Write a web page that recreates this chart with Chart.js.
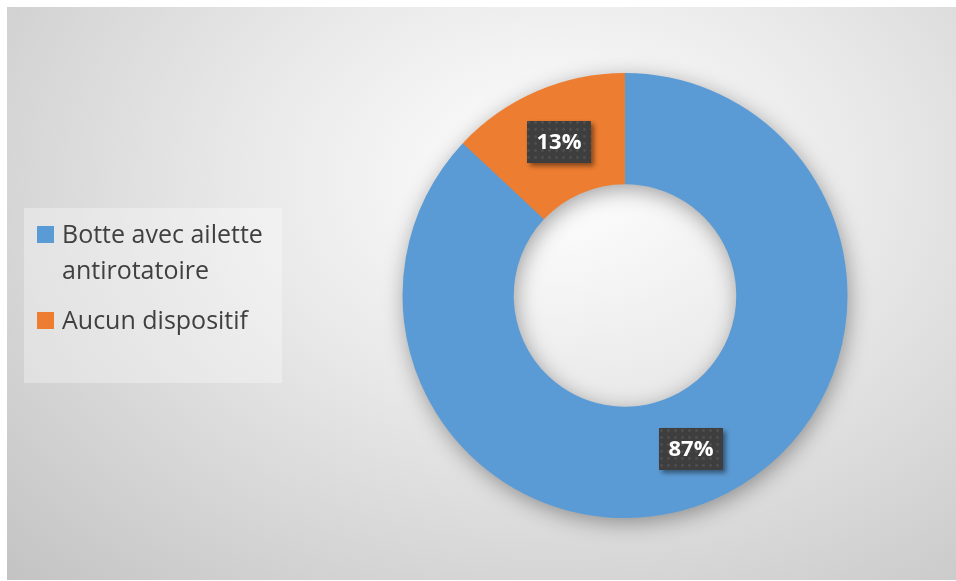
<!DOCTYPE html>
<html lang="fr">
<head>
<meta charset="utf-8">
<title>Dispositif</title>
<script src="https://cdn.jsdelivr.net/npm/chart.js@4.4.1/dist/chart.umd.min.js"></script>
<style>
    html, body { margin: 0; padding: 0; background: #ffffff; }
    body { width: 956px; height: 581px; position: relative; overflow: hidden; }

    #frame {
        position: absolute;
        left: 7px; top: 7px;
        width: 949px; height: 573px;
        background: radial-gradient(farthest-corner at 58% 30%, #ffffff 0%, #e9e9e9 40%, #c3c3c3 100%);
    }

    #chart-box { position: absolute; left: 0; top: 0; width: 949px; height: 573px; }

    #legend {
        position: absolute;
        left: 17px; top: 201px;
        width: 258px; height: 175px;
        box-sizing: border-box;
        padding-top: 7px;
        background: rgba(255, 255, 255, 0.32);
        font-family: "Open Sans", sans-serif;
        font-size: 25px;
        line-height: 36px;
        color: #404040;
    }
    #legend ul { list-style: none; margin: 0; padding: 0; }
    #legend li { position: relative; padding-left: 38px; width: 212px; }
    #legend li + li { margin-top: 14px; }
    #legend .swatch { position: absolute; left: 13px; top: 11px; width: 17px; height: 17px; }
</style>
</head>
<body>
<div id="frame">
    <div id="chart-box"><canvas id="donut"></canvas></div>
    <div id="legend"></div>
</div>

<script>
const categories = ["Botte avec ailette antirotatoire", "Aucun dispositif"];
const values = [87, 13];
const sliceColors = ["#5B9BD5", "#ED7D31"];


// dotted dark fill used behind the percentage labels
const makeLabelPattern = (ctx) => {
    const tile = document.createElement("canvas");
    tile.width = 7;
    tile.height = 7;
    const t = tile.getContext("2d");
    t.fillStyle = "#3e3e3e";
    t.fillRect(0, 0, 7, 7);
    t.fillStyle = "rgba(255,255,255,0.09)";
    t.beginPath();
    t.arc(3.5, 3.5, 1.4, 0, Math.PI * 2);
    t.fill();
    return ctx.createPattern(tile, "repeat");
}


// soft shadow under the whole ring, drawn once before the slices
const ringShadow = {
    id: "ringShadow",
    beforeDatasetsDraw(chart) {
        const arc = chart.getDatasetMeta(0).data[0];
        if (!arc) return;
        const {x, y, innerRadius, outerRadius} = arc.getProps(["x", "y", "innerRadius", "outerRadius"], true);
        const ctx = chart.ctx;
        ctx.save();
        ctx.shadowColor = "rgba(0,0,0,0.38)";
        ctx.shadowBlur = 22;
        ctx.shadowOffsetX = 2;
        ctx.shadowOffsetY = 5;
        ctx.fillStyle = sliceColors[0];
        ctx.beginPath();
        ctx.arc(x, y, outerRadius - 1, 0, Math.PI * 2);
        ctx.arc(x, y, innerRadius + 1, 0, Math.PI * 2, true);
        ctx.fill("evenodd");
        ctx.restore();
    }
};


// percentage labels in dark boxes at each slice centroid
const boxedLabels = {
    id: "boxedLabels",
    afterDatasetsDraw(chart) {
        const ctx = chart.ctx;
        const pattern = makeLabelPattern(ctx);
        const data = chart.data.datasets[0].data;

        chart.getDatasetMeta(0).data.forEach((arc, i) => {
            const pos = arc.tooltipPosition(true);
            const text = data[i] + "%";

            ctx.save();
            ctx.font = "bold 22px 'Open Sans', sans-serif";
            const w = ctx.measureText(text).width + 19;
            const h = 42;
            const bx = Math.round(pos.x - w / 2);
            const by = Math.round(pos.y - h / 2);

            ctx.shadowColor = "rgba(0,0,0,0.45)";
            ctx.shadowBlur = 5;
            ctx.shadowOffsetX = 3;
            ctx.shadowOffsetY = 3;
            ctx.fillStyle = pattern;
            ctx.fillRect(bx, by, w, h);

            ctx.shadowColor = "transparent";
            ctx.fillStyle = "#ffffff";
            ctx.textAlign = "center";
            ctx.textBaseline = "middle";
            ctx.fillText(text, bx + w / 2, by + h / 2 + 1);
            ctx.restore();
        });
    }
};


// legend written as html next to the chart
const htmlLegend = {
    id: "htmlLegend",
    afterUpdate(chart) {
        const box = document.querySelector("#legend");
        box.innerHTML = "";
        const list = document.createElement("ul");

        chart.options.plugins.legend.labels.generateLabels(chart).forEach(item => {
            const row = document.createElement("li");
            const swatch = document.createElement("span");
            swatch.className = "swatch";
            swatch.style.background = item.fillStyle;
            row.append(swatch);
            row.append(document.createTextNode(item.text));
            list.append(row);
        });

        box.append(list);
    }
};


const renderChart = () => {
    const ctx = document.getElementById("donut").getContext("2d");

    new Chart(ctx, {
        type: "doughnut",
        data: {
            labels: categories,
            datasets: [
                {
                    data: values,
                    backgroundColor: sliceColors,
                    borderWidth: 0,
                    hoverOffset: 0,
                },
            ],
        },
        options: {
            responsive: true,
            maintainAspectRatio: false,
            animation: false,
            cutout: "50%",
            layout: {
                padding: {left: 395, right: 108, top: 66, bottom: 62},
            },
            plugins: {
                legend: {display: false},
                tooltip: {enabled: false},
            },
        },
        plugins: [ringShadow, boxedLabels, htmlLegend],
    });
}


async function main() {
    try {
        await document.fonts.load("bold 22px 'Open Sans'");
        await document.fonts.load("25px 'Open Sans'");
    } catch (e) {
        // fonts are local, carry on anyway
    }
    renderChart();
}

main();
</script>
</body>
</html>
